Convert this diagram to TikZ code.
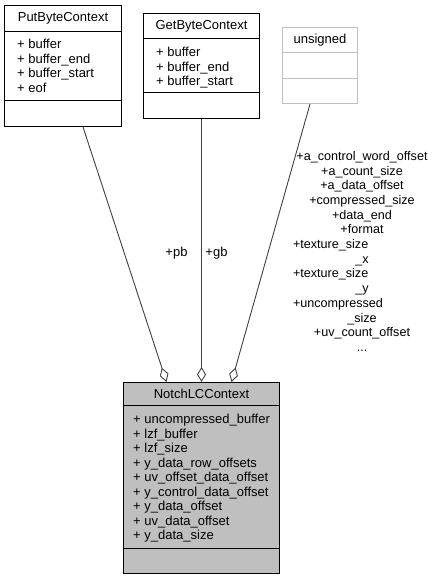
\documentclass[tikz,border=0pt]{standalone}
\usepackage{fontspec}
\setmainfont{Liberation Sans}
\usetikzlibrary{arrows.meta,calc}
\definecolor{edgegray}{HTML}{404040}
\definecolor{boxfill}{HTML}{BFBFBF}
\definecolor{ghost}{HTML}{BFBFBF}

\begin{document}
\begin{tikzpicture}[
  x=1pt,y=-1pt,
  font=\fontsize{13}{14.5}\selectfont,
  cls/.style={draw=black,line width=1pt,fill=white,anchor=north west,inner sep=0pt},
  sep/.style={draw=black,line width=1pt},
  title/.style={inner sep=0pt},
  attr/.style={anchor=north west,align=left,inner sep=0pt},
  agg/.style={draw=edgegray,line width=0.9pt,{Diamond[open,length=15pt,width=9pt]}-},
  lbl/.style={inner sep=0pt},
]
\useasboundingbox (0,0) rectangle (436,580);

% ============ PutByteContext ============
\node[cls,minimum width=117,minimum height=121] (put) at (4,5) {};
\draw[sep] ([yshift=-27]put.north west) -- ([yshift=-27]put.north east);
\draw[sep] ([yshift=-96]put.north west) -- ([yshift=-96]put.north east);
\node[title] (puttitle) at ([yshift=-13.5]put.north) {PutByteContext};
\node[attr] (putattr) at ([xshift=13,yshift=-34]put.north west)
  {+ buffer\\+ buffer\_end\\+ buffer\_start\\+ eof};

% ============ GetByteContext ============
\node[cls,minimum width=116,minimum height=105] (get) at (143,13) {};
\draw[sep] ([yshift=-26]get.north west) -- ([yshift=-26]get.north east);
\draw[sep] ([yshift=-80]get.north west) -- ([yshift=-80]get.north east);
\node[title] (gettitle) at ([yshift=-13]get.north) {GetByteContext};
\node[attr] (getattr) at ([xshift=13,yshift=-34]get.north west)
  {+ buffer\\+ buffer\_end\\+ buffer\_start};

% ============ unsigned ============
\node[cls,draw=ghost,minimum width=75,minimum height=76] (uns) at (282,27) {};
\draw[sep,ghost] ([yshift=-26]uns.north west) -- ([yshift=-26]uns.north east);
\draw[sep,ghost] ([yshift=-52]uns.north west) -- ([yshift=-52]uns.north east);
\node[title] (unstitle) at ([yshift=-13]uns.north) {unsigned};

% ============ NotchLCContext ============
\node[cls,fill=boxfill,minimum width=156,minimum height=191] (notch) at (123,382) {};
\draw[sep] ([yshift=-23]notch.north west) -- ([yshift=-23]notch.north east);
\draw[sep] ([yshift=-166]notch.north west) -- ([yshift=-166]notch.north east);
\node[title] (notchtitle) at ([yshift=-11.5]notch.north) {NotchLCContext};
\node[attr] (notchattr) at ([xshift=10,yshift=-32]notch.north west)
  {+ uncompressed\_buffer\\+ lzf\_buffer\\+ lzf\_size\\+ y\_data\_row\_offsets\\
   + uv\_offset\_data\_offset\\+ y\_control\_data\_offset\\+ y\_data\_offset\\
   + uv\_data\_offset\\+ y\_data\_size};

% ============ aggregation edges ============
\draw[agg] ([xshift=-35]notch.north) -- ([xshift=20]put.south);
\draw[agg] (notch) -- (get);
\draw[agg] ([xshift=30]notch.north) -- ([xshift=-10]uns.south);

\node[lbl] (pblbl) at (176.5,253) {+pb};
\node[lbl] (gblbl) at (216.5,253) {+gb};
\node[lbl,align=center,anchor=north,font=\fontsize{12.6}{14.7}\selectfont] (unslbl) at (362,151)
  {+a\_control\_word\_offset\\+a\_count\_size\\+a\_data\_offset\\+compressed\_size\\
   +data\_end\\+format\\\makebox[138pt][l]{+texture\_size}\\\_x\\
   \makebox[138pt][l]{+texture\_size}\\\_y\\\makebox[138pt][l]{+uncompressed}\\\_size\\
   +uv\_count\_offset\\...};

\end{tikzpicture}
\end{document}
